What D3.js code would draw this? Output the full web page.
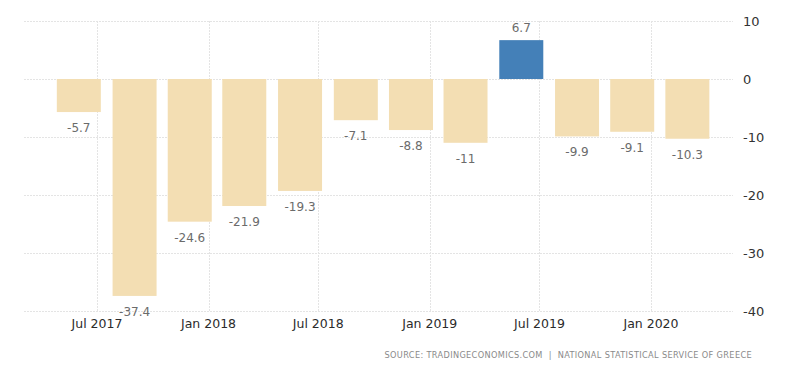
<!DOCTYPE html>
<html>
<head>
<meta charset="utf-8">
<script src="https://cdn.jsdelivr.net/npm/d3@7"></script>
<style>
  body { margin: 0; background: #fff; }
  svg text { font-family: "DejaVu Sans", sans-serif; }
</style>
</head>
<body>
<div id="chart"></div>
<script>
// quarterly values, plotted on the first day of the quarter's last month
var dates = ["2017-06-01", "2017-09-01", "2017-12-01", "2018-03-01", "2018-06-01", "2018-09-01",
             "2018-12-01", "2019-03-01", "2019-06-01", "2019-09-01", "2019-12-01", "2020-03-01"];
var values = [-5.7, -37.4, -24.6, -21.9, -19.3, -7.1, -8.8, -11, 6.7, -9.9, -9.1, -10.3];
var labels = ["-5.7", "-37.4", "-24.6", "-21.9", "-19.3", "-7.1", "-8.8", "-11", "6.7", "-9.9", "-9.1", "-10.3"];
var xTicks = ["2017-07-01", "2018-01-01", "2018-07-01", "2019-01-01", "2019-07-01", "2020-01-01"];
var yTicks = [10, 0, -10, -20, -30, -40];
var source = "SOURCE: TRADINGECONOMICS.COM  |  NATIONAL STATISTICAL SERVICE OF GREECE";

var width = 800,
    height = 373,
    plotLeft = 24,
    plotRight = 733,
    plotTop = 21,
    plotBottom = 311,
    barW = 44;

var parse = d3.timeParse("%Y-%m-%d");

var x = d3.scaleTime()
    .domain([parse("2017-07-01"), parse("2020-01-01")])
    .range([97, 651]);

var y = d3.scaleLinear()
    .domain([-40, 10])
    .range([plotBottom, plotTop]);

var svg = d3.select("#chart").append("svg")
    .attr("width", width)
    .attr("height", height);

// horizontal grid
svg.append("g")
  .selectAll("line")
  .data(yTicks)
  .enter().append("line")
    .attr("x1", plotLeft)
    .attr("x2", plotRight)
    .attr("y1", function(d) { return Math.round(y(d)) + 0.5; })
    .attr("y2", function(d) { return Math.round(y(d)) + 0.5; })
    .attr("stroke", "#e4e4e4")
    .attr("stroke-dasharray", "2,1");

// vertical grid
svg.append("g")
  .selectAll("line")
  .data(xTicks)
  .enter().append("line")
    .attr("x1", function(d) { return Math.round(x(parse(d))) + 0.5; })
    .attr("x2", function(d) { return Math.round(x(parse(d))) + 0.5; })
    .attr("y1", plotTop)
    .attr("y2", plotBottom)
    .attr("stroke", "#e4e4e4")
    .attr("stroke-dasharray", "2,1");

// bars
svg.append("g")
  .selectAll("rect")
  .data(values)
  .enter().append("rect")
    .attr("x", function(d, i) { return x(parse(dates[i])) - barW / 2; })
    .attr("width", barW)
    .attr("y", function(d) { return y(Math.max(0, d)); })
    .attr("height", function(d) { return Math.abs(y(d) - y(0)); })
    .attr("fill", function(d) { return d >= 0 ? "#4480b8" : "#f3deb3"; });

// value labels
svg.append("g")
  .selectAll("text")
  .data(values)
  .enter().append("text")
    .attr("x", function(d, i) { return x(parse(dates[i])); })
    .attr("y", function(d) { return d >= 0 ? y(d) - 8 : y(d) + 20; })
    .attr("text-anchor", "middle")
    .attr("font-size", 12)
    .attr("fill", "#6b6b6b")
    .text(function(d, i) { return labels[i]; });

// y axis labels (right)
svg.append("g")
  .selectAll("text")
  .data(yTicks)
  .enter().append("text")
    .attr("x", 743)
    .attr("y", function(d) { return y(d) + 5; })
    .attr("font-size", 13)
    .attr("fill", "#333")
    .text(function(d) { return d; });

// x axis labels
var fmt = d3.timeFormat("%b %Y");
svg.append("g")
  .selectAll("text")
  .data(xTicks)
  .enter().append("text")
    .attr("x", function(d) { return x(parse(d)); })
    .attr("y", 328)
    .attr("text-anchor", "middle")
    .attr("font-size", 12.5)
    .attr("fill", "#2b2b2b")
    .text(function(d) { return fmt(parse(d)); });

// source
svg.append("text")
  .attr("x", 752)
  .attr("y", 358)
  .attr("text-anchor", "end")
  .attr("font-size", 8.2)
  .attr("letter-spacing", 0.35)
  .attr("fill", "#8a8a8a")
  .style("white-space", "pre")
  .text(source);
</script>
</body>
</html>
